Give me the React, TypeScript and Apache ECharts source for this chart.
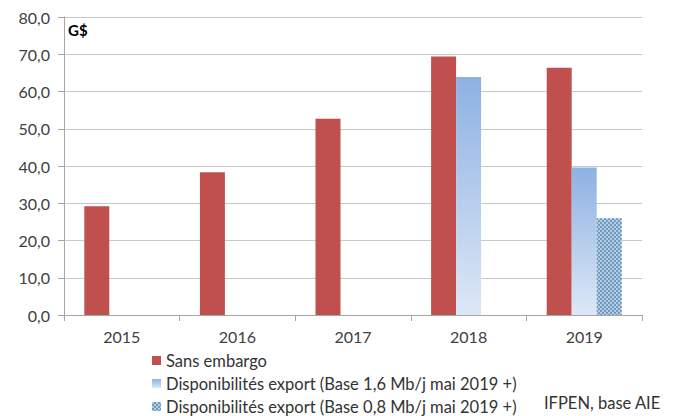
import React, { useEffect, useRef } from "react";
import * as echarts from "echarts";

const categories = ["2015", "2016", "2017", "2018", "2019"];
const sansEmbargo = [29.2, 38.3, 52.7, 69.4, 66.4];
const dispo16 = [null, null, null, 63.9, 39.6];
const dispo08 = [null, null, null, null, 26.0];
const seriesNames = [
  "Sans embargo",
  "Disponibilités export (Base 1,6 Mb/j mai 2019 +)",
  "Disponibilités export (Base 0,8 Mb/j mai 2019 +)",
];

const FONT = "Lato";

export default function App() {
  const ref = useRef<HTMLDivElement>(null);
  useEffect(() => {
    if (!ref.current) return;
    const chart = echarts.init(ref.current, null, { renderer: "svg" });
    const legendTops = [347, 370, 393];
    chart.setOption({
      animation: false,
      textStyle: { fontFamily: FONT },
      grid: { left: 64, right: 36, top: 17, bottom: 101, containLabel: false },
      legend: seriesNames.map((n, i) => ({
        orient: "vertical",
        left: 147,
        top: legendTops[i],
        itemWidth: 9,
        itemHeight: 9,
        itemGap: 5,
        icon: "rect",
        textStyle: { fontFamily: FONT, fontSize: 16.5, color: "#333" },
        data: [n],
      })),
      xAxis: {
        type: "category",
        data: categories,
        axisLine: { lineStyle: { color: "#a6a6a6" } },
        axisTick: { show: true, length: 6, lineStyle: { color: "#a6a6a6" } },
        axisLabel: { fontFamily: FONT, fontSize: 16, color: "#404040", margin: 13 },
      },
      yAxis: {
        type: "value",
        min: 0,
        max: 80,
        interval: 10,
        axisLine: { show: true, lineStyle: { color: "#a6a6a6" } },
        axisTick: { show: true, length: 6, lineStyle: { color: "#a6a6a6" } },
        splitLine: { lineStyle: { color: "#c8c8c8" } },
        axisLabel: {
          fontFamily: FONT,
          fontSize: 16,
          color: "#404040",
          margin: 14,
          formatter: (v: number) => v.toFixed(1).replace(".", ","),
        },
      },
      series: [
        {
          name: seriesNames[0],
          type: "bar",
          data: sansEmbargo,
          barWidth: 25,
          barGap: "0%",
          itemStyle: { color: "#C0504D" },
        },
        {
          name: seriesNames[1],
          type: "bar",
          data: dispo16,
          barWidth: 25,
          barGap: "0%",
          itemStyle: {
            color: new echarts.graphic.LinearGradient(0, 0, 0, 1, [
              { offset: 0, color: "#8DB1E2" },
              { offset: 1, color: "#DDE8F6" },
            ]),
          },
        },
        {
          name: seriesNames[2],
          type: "bar",
          data: dispo08,
          barWidth: 25,
          barGap: "0%",
          itemStyle: {
            color: "#B5CCE0",
            decal: {
              symbol: "rect",
              symbolSize: 1,
              color: "#6F9BC2",
              dashArrayX: [
                [2, 2],
                [0, 2, 2, 0],
              ],
              dashArrayY: [2, 0],
              rotation: 0,
            },
          },
        },
      ],
      graphic: [
        {
          type: "text",
          left: 68,
          top: 22,
          style: { text: "G$", font: `bold 15px ${FONT}`, fill: "#000" },
        },
        {
          type: "text",
          left: 544,
          top: 394,
          style: { text: "IFPEN, base AIE", font: `16.5px ${FONT}`, fill: "#333" },
        },
      ],
    });
    return () => chart.dispose();
  }, []);
  return <div ref={ref} style={{ width: 678, height: 416, position: "absolute", left: 0, top: 0, background: "#fff" }} />;
}
